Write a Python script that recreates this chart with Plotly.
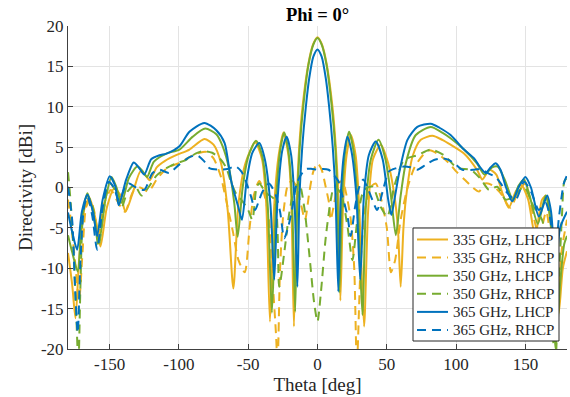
import plotly.graph_objects as go

# ---------------- data ----------------
theta_335_L = [-180, -177, -174.6, -172, -168, -164.5, -160, -156.6, -152, -146.5, -142, -138.5, -133, -127.7, -124, -121, -116, -110, -102, -92.4, -81.6, -75, -69.6, -64.8, -60.7, -57, -52, -45, -40, -37, -34.3, -31.5, -28, -24.5, -21, -19, -17, -15, -13.2, -10.8, -6.5, -3, 0,
               3, 6.5, 10.8, 13.2, 15, 16.5, 18.5, 21, 24, 27.5, 30, 33.6, 36.5, 40, 45.7, 51, 55.5, 58, 60, 62, 63.7, 68.5, 74.5, 82.9, 90, 96, 105.7, 115, 119, 124, 129, 133, 138, 143, 147, 152, 157, 162, 165, 168, 171, 174, 177, 180]
dir_335_L = [-8.1, -12, -16.2, -9, -2.5, -1.3, -4, -7.3, -2.5, -0.1, -1, -3.0, -0.5, 2.0, 1.5, 0.9, 2.5, 3.3, 4.0, 4.7, 6.0, 5.3, 3.0, -2.8, -12.5, -2, 3, 5.6, 3.5, -2, -16.6, -3, 4, 6.8, 4, -1, -17.2, -2, 5, 10, 15.4, 17.8, 18.6,
             17.8, 15.4, 10, 5, -1, -14, -2, 4, 6.5, 4, -2, -17.2, -3, 3.5, 5.3, 3, -1, -5, -12.3, -5, -1.5, 3.8, 5.9, 6.4, 5.9, 5.3, 4.2, 2.2, 1.0, 2.2, 1.6, -0.5, -2.5, -0.5, 0.3, -1.5, -6, -1.5, -1.0, -4, -10, -15.6, -10, -7.9]

theta_335_R = [-180, -178, -175, -172, -169.5, -167, -164, -161, -158, -154, -149, -145, -139, -133, -128, -122, -116, -108, -100, -92, -85, -80, -75, -70, -66, -61, -57, -52.5, -49, -46, -42, -38, -35, -32.4, -30, -28.8, -27, -24.5, -21, -18, -15, -12, -9, -6, -3, 0,
               3, 6, 8.4, 9.5, 12, 15, 18, 21, 24, 26.5, 28.4, 31, 34, 38, 42, 46, 50, 53, 56, 60, 65, 70, 76, 81, 88, 95, 100, 106, 112, 116.5, 121, 126, 133, 139, 145, 150, 155, 160, 165, 170, 173, 176, 180]
dir_335_R = [-1.5, -4, -9, -14, -8, -2.5, -1.5, -3, -6, -2, -0.3, -1.5, -3.0, -0.5, 0.0, -0.5, 1.0, 2.5, 3.0, 3.8, 4.3, 4.4, 3.6, 1.5, -1.5, -5.5, -9, -10.5, -5, -1, 0.8, -1.1, -4, -11.4, -18, -22, -10, -3, 0.5, 0.8, 0, -2, -4, -0.7, 2.0, 3.0,
             2.2, 0, -2, -4, -2, 0.5, 0.8, -1, -4, -10, -22, -10, -3, 0, 0.5, -1.5, -5, -10.5, -9, -4, 0, 2.5, 4.0, 4.6, 4.0, 3.0, 2.0, 1.0, 0, -0.5, 0.5, 0.3, -0.9, -2.5, -0.5, 0.5, -3, -6, -3, -10, -16, -8, -4]

theta_350_L = [-180, -177, -173, -170, -166, -162, -157.8, -153, -148.6, -145, -141.4, -136, -130, -126, -123, -118, -109, -99.6, -90, -81, -73, -68.4, -63.6, -60, -57.6, -54, -50, -44.4, -40, -36, -32.9, -30, -27, -24, -21, -18.5, -16.1, -14.6, -12.8, -10.3, -6.5, -3, 0,
               3, 6.5, 10.3, 12.8, 14.3, 15.8, 17.8, 20, 22.8, 26, 29, 32.4, 35, 38.5, 44, 49, 53, 56.5, 60, 63.7, 70.9, 81.7, 90, 96, 105.7, 115, 120.5, 126, 130, 135, 141, 145, 149, 153, 159, 164.5, 168, 171.8, 175, 178, 180]
dir_350_L = [-5.9, -8, -10.4, -4, -0.7, -3, -6.9, -1.5, 1.3, 0, -1.9, 1.2, 2.6, 2.0, 1.3, 3.2, 4.2, 4.7, 6.3, 7.3, 6.6, 5.1, 2.2, -2, -6.1, 0, 3.8, 5.8, 4, -2, -15.5, -2, 4.5, 6.8, 4.5, -1, -15.4, -2, 5, 10, 15.2, 17.7, 18.5,
             17.7, 15.2, 10, 5, -1, -13, -1, 4.5, 6.9, 4.5, -2, -15.8, -2, 3.5, 5.9, 3.5, -1, -5.9, -1, 3.0, 6.5, 7.5, 6.8, 6.1, 4.7, 3.0, 1.6, 2.5, 2.6, 1.0, -1.5, 0.2, 1.0, -1.0, -4.5, -1.0, -4, -20, -12, -7, -6]

theta_350_R = [-180, -178, -176, -174, -172.5, -171, -169, -166, -162, -158, -154, -150, -146, -141.5, -137, -132, -127, -122, -116, -109, -102, -95, -88, -83, -76, -70, -66, -62, -58, -55, -50, -47, -44, -42, -37, -31, -27.6, -24, -20.4, -16.8, -13.2, -9.6, -6, -2.4, 0,
               2.4, 6, 9.6, 12, 16.8, 21.6, 25.2, 28.8, 33.6, 39.6, 45.6, 50.4, 55.3, 62.5, 72, 81.7, 91.3, 100.9, 110.5, 118, 123.7, 129.7, 135.7, 141.7, 148.9, 156, 162, 166, 169, 171.5, 174, 176.5, 178, 180]
dir_350_R = [1.9, -2, -8, -16, -22, -12, -3, -1.0, -2.5, -7.3, -2.5, 0.5, -0.3, -2.5, -0.5, 0.3, -1.0, 0.0, 1.5, 2.4, 3.0, 3.4, 4.2, 4.5, 4.3, 3.5, 2.5, 0.5, -1.0, -1.5, -2.8, -4, 0.0, 0.5, -0.7, -1.5, -12.3, -8.1, -3.2, -0.3, 0.5, -2.4, -8.1, -14.3, -16.6,
             -13.1, -6.1, -1.5, 0.1, -0.7, -4.8, -9, -4, -0.3, 0.1, -2.4, -3.6, 0.1, 3.4, 4.0, 4.7, 4.0, 2.4, 2.2, 1.0, -0.3, 0.1, -1.5, -1.1, 0.1, -2.4, -4, -8, -16, -22, -12, -3, 0.7, 1.2]

theta_365_L = [-180, -177, -173.4, -170, -166, -162, -159, -155, -149.9, -146, -143.4, -138, -132.6, -129, -125, -120, -114, -109, -99.6, -92.4, -81.6, -73, -67, -62.4, -57, -54.5, -51, -47, -42, -38, -34, -31.2, -29, -25.5, -22.3, -19, -16.5, -14.5, -13, -11, -8.4, -6, -3, 0,
               3, 6, 8.4, 11, 13, 15, 16.8, 19, 21.6, 24.5, 28, 30.8, 33.5, 37, 42, 47, 51, 53.3, 56, 58.9, 64.9, 72, 81.7, 88, 96, 105.7, 113, 117, 121.3, 125, 128.5, 132, 136, 140.5, 145, 150, 154, 159.7, 165.7, 168.5, 171.8, 175, 180]
dir_365_L = [-3.1, -5.5, -7.7, -3, -0.9, -3, -6.0, -1.5, 1.4, 0.2, -2.2, 1, 3.1, 2.5, 1.6, 3.5, 4.0, 4.2, 5.1, 6.9, 8.0, 7.1, 5.5, 0.9, -2.5, -4, 1, 4.3, 5.5, 3.5, -2, -11.4, -2, 4.5, 6.3, 4, -2, -12.3, -1, 5, 10, 13.5, 16.2, 17.1,
             16.2, 13.5, 10, 5, -1, -12.9, -1, 4, 6.3, 4.5, -1, -11.4, -1, 4, 5.7, 3.5, -1.5, -3.4, -1, 1.8, 5.9, 7.5, 7.9, 7.4, 6.5, 4.7, 3.6, 2.6, 1.8, 2.5, 3.0, 2.2, 0.0, -1.7, 0.0, 1.3, 0.0, -3.6, -1.0, -3, -10, -5, -3]

theta_365_R = [-180, -177, -175, -173, -171, -168.5, -166, -162.5, -159, -155, -150.6, -147, -143, -139, -136, -131, -125, -119, -114, -107, -100, -93, -87, -82, -78, -71, -65, -59, -55, -52, -48, -45, -42, -39.6, -35, -30, -27, -24, -21, -18, -15, -11, -8, -4, 0,
               4, 8, 12, 15, 18, 21.6, 24, 27, 30, 33, 36, 39.5, 43, 47, 51.6, 57, 62.5, 67, 72, 78, 84, 90, 95, 100, 104.5, 113, 118, 122.5, 128.5, 133, 137, 143, 149, 154, 159.7, 164.5, 168, 171.5, 174, 177.7, 180]
dir_365_R = [0.1, -4, -12, -18, -9, -2.5, -1.1, -3.5, -7.7, -2.5, 0.7, 0.0, -1.7, 0.0, 0.5, 0.0, -0.3, 1.8, 2.2, 1.8, 2.8, 3.7, 4.0, 3.3, 2.4, 2.2, 2.3, 2.6, 2.0, 0.9, -1.1, -2.8, -1.5, -0.5, 0.5, -1.0, -3, -6.3, -4.8, -2.4, 0.5, 1.8, 2.3, 2.3, 2.2,
             2.3, 2.2, 1.5, 0.8, -1.0, -3.5, -6.0, -2.5, 0.0, 1.0, 0.0, -1.5, -2.8, -0.5, 2.0, 2.4, 2.6, 2.5, 2.2, 2.8, 3.4, 3.6, 3.4, 2.8, 2.2, 2.2, 2.3, 1.8, 1.3, 0.3, -0.7, -1.5, 0.7, -0.5, -2.8, -1.9, -4, -9, -4, 0.5, 1.5]

series_names = ["335 GHz, LHCP", "335 GHz, RHCP", "350 GHz, LHCP", "350 GHz, RHCP", "365 GHz, LHCP", "365 GHz, RHCP"]
x_tickvals = [-150, -100, -50, 0, 50, 100, 150]
x_ticktext = ["-150", "-100", "-50", "0", "50", "100", "150"]
y_tickvals = [-20, -15, -10, -5, 0, 5, 10, 15, 20]
y_ticktext = ["-20", "-15", "-10", "-5", "0", "5", "10", "15", "20"]

# ---------------- figure ----------------
DASH = "9px,6px"
series = [
    (theta_335_L, dir_335_L, "#EDB120", "solid"),
    (theta_335_R, dir_335_R, "#EDB120", DASH),
    (theta_350_L, dir_350_L, "#77AC30", "solid"),
    (theta_350_R, dir_350_R, "#77AC30", DASH),
    (theta_365_L, dir_365_L, "#0072BD", "solid"),
    (theta_365_R, dir_365_R, "#0072BD", DASH),
]

FONT = "Liberation Serif"
fig = go.Figure()
for (tx, ty, col, dash), name in zip(series, series_names):
    fig.add_trace(go.Scatter(
        x=tx, y=ty, mode="lines", name=name, showlegend=False,
        line=dict(color=col, width=2, dash=dash, shape="spline", smoothing=0.7),
    ))

# ---- legend box (MATLAB-style, compact rows) built in paper coordinates ----
L, R, T, B = 68, 567, 26, 349          # plot-area pixel edges
def px(x): return (x - L) / (R - L)
def py(y): return (B - y) / (B - T)

shapes = [dict(type="rect", xref="paper", yref="paper",
               x0=px(413), x1=px(559), y0=py(341), y1=py(228),
               line=dict(color="#262626", width=1), fillcolor="white", layer="above")]
annotations = []
for i, ((tx, ty, col, dash), name) in enumerate(zip(series, series_names)):
    yc = 239.5 + i * 18.1
    shapes.append(dict(type="line", xref="paper", yref="paper",
                       x0=px(417), x1=px(448), y0=py(yc), y1=py(yc),
                       line=dict(color=col, width=2, dash=dash), layer="above"))
    annotations.append(dict(xref="paper", yref="paper", x=px(451), y=py(yc),
                            xanchor="left", yanchor="middle", showarrow=False,
                            text=name, font=dict(family=FONT, size=15, color="#262626")))

axis_common = dict(
    showgrid=True, gridcolor="#e3e3e3", gridwidth=1,
    zeroline=False, showline=True, linecolor="#404040", linewidth=1,
    ticks="inside", ticklen=5, tickcolor="#404040",
    tickfont=dict(family=FONT, size=17, color="#262626"),
    mirror=False,
)

fig.update_layout(
    width=570, height=397,
    margin=dict(l=68, r=3, t=26, b=48),
    paper_bgcolor="white", plot_bgcolor="white",
    title=dict(text="<b>Phi = 0°</b>", x=0.5, xref="paper", xanchor="center",
               y=1 - 15 / 397, yref="container", yanchor="middle",
               font=dict(family=FONT, size=18.5, color="black")),
    xaxis=dict(range=[-180, 180], tickvals=x_tickvals, ticktext=x_ticktext,
               title=dict(text="Theta [deg]", font=dict(family=FONT, size=19, color="#262626"), standoff=2),
               **axis_common),
    yaxis=dict(range=[-20, 20], tickvals=y_tickvals, ticktext=y_ticktext,
               title=dict(text="Directivity [dBi]", font=dict(family=FONT, size=19, color="#262626"), standoff=3),
               **axis_common),
    shapes=shapes,
    annotations=annotations,
    showlegend=False,
)

fig.write_html("out.html")
